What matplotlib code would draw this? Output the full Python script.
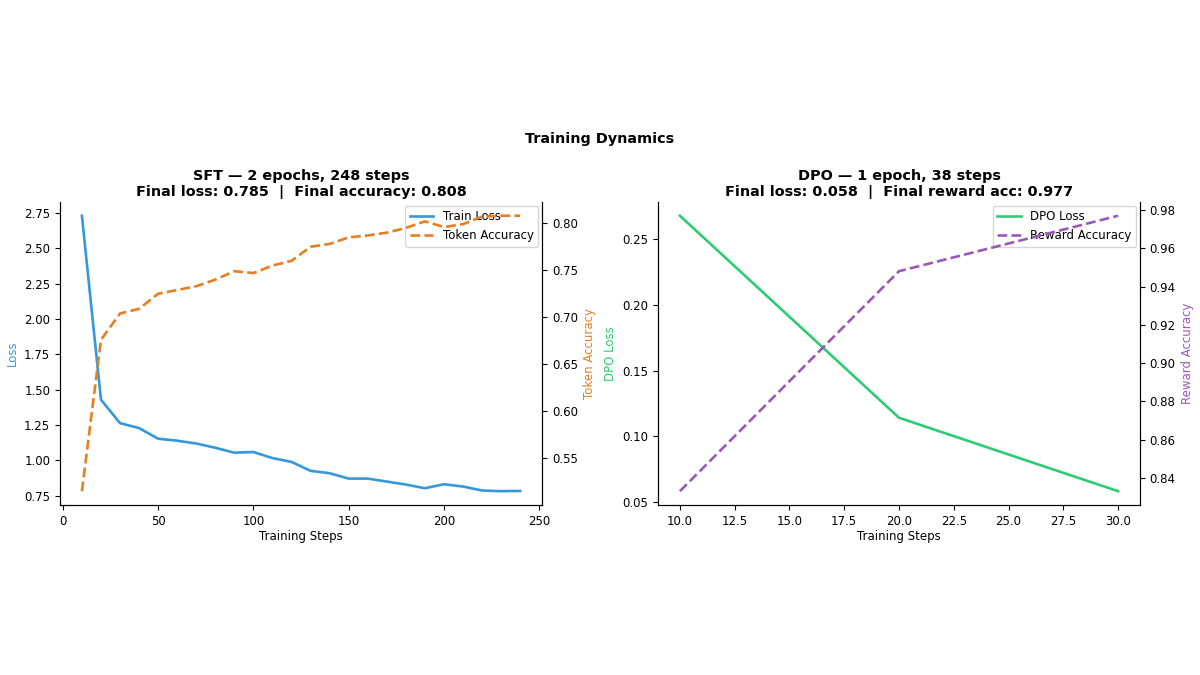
import numpy as np
import matplotlib
matplotlib.use("Agg")
import matplotlib.pyplot as plt

# SFT run
sft_steps = [10, 20, 30, 40, 50, 60, 70, 80, 90, 100, 110, 120, 130, 140, 150, 160,
             170, 180, 190, 200, 210, 220, 230, 240]
sft_loss = [2.73, 1.43, 1.264, 1.229, 1.154, 1.14, 1.12, 1.09, 1.055, 1.06, 1.017, 0.99,
            0.927, 0.91, 0.872, 0.872, 0.851, 0.83, 0.804, 0.832, 0.816, 0.788, 0.783, 0.785]
sft_acc = [0.515, 0.676, 0.704, 0.709, 0.725, 0.729, 0.733, 0.740, 0.749, 0.747, 0.755, 0.760,
           0.775, 0.778, 0.785, 0.787, 0.790, 0.795, 0.802, 0.796, 0.799, 0.807, 0.808, 0.808]

# DPO run
dpo_steps = [10, 20, 30]
dpo_loss = [0.268, 0.114, 0.058]
dpo_acc = [0.833, 0.948, 0.977]

c_loss = "#3498db"
c_acc = "#e67e22"
c_dpo = "#2ecc71"
c_rew = "#9b59b6"

fs_tick = 8.5
fs_title = 10.4

plt.rcParams["font.size"] = fs_tick
plt.rcParams["xtick.labelsize"] = fs_tick
plt.rcParams["ytick.labelsize"] = fs_tick

fig = plt.figure(figsize=(12, 6.75), dpi=100)
fig.suptitle("Training Dynamics", fontsize=fs_title, fontweight="bold", y=0.804)

# --- SFT panel
ax1 = fig.add_axes([0.05, 0.2519, 0.4017, 0.4489])
l1, = ax1.plot(sft_steps, sft_loss, color=c_loss, lw=1.9, label="Train Loss")
ax1.set_xlabel("Training Steps", fontsize=fs_tick, labelpad=2)
ax1.set_ylabel("Loss", color=c_loss, fontsize=fs_tick)
ax1b = ax1.twinx()
l2, = ax1b.plot(sft_steps, sft_acc, color=c_acc, lw=1.9, ls="--", label="Token Accuracy")
ax1b.set_ylabel("Token Accuracy", color=c_acc, fontsize=fs_tick)
ax1.spines["top"].set_visible(False)
ax1b.spines["top"].set_visible(False)
ax1.legend([l1, l2], ["Train Loss", "Token Accuracy"], loc="upper right", fontsize=fs_tick,
           borderaxespad=0.3)
ax1.set_title("SFT — 2 epochs, 248 steps\nFinal loss: 0.785  |  Final accuracy: 0.808",
              fontsize=fs_title, fontweight="bold", pad=4)

# --- DPO panel
ax2 = fig.add_axes([0.5483, 0.2519, 0.4017, 0.4489])
l3, = ax2.plot(dpo_steps, dpo_loss, color=c_dpo, lw=1.9, label="DPO Loss")
ax2.set_xlabel("Training Steps", fontsize=fs_tick, labelpad=2)
ax2.set_ylabel("DPO Loss", color=c_dpo, fontsize=fs_tick)
ax2b = ax2.twinx()
l4, = ax2b.plot(dpo_steps, dpo_acc, color=c_rew, lw=1.9, ls="--", label="Reward Accuracy")
ax2b.set_ylabel("Reward Accuracy", color=c_rew, fontsize=fs_tick)
ax2.spines["top"].set_visible(False)
ax2b.spines["top"].set_visible(False)
ax2.legend([l3, l4], ["DPO Loss", "Reward Accuracy"], loc="upper right", fontsize=fs_tick,
           borderaxespad=0.3)
ax2.set_title("DPO — 1 epoch, 38 steps\nFinal loss: 0.058  |  Final reward acc: 0.977",
              fontsize=fs_title, fontweight="bold", pad=4)

plt.savefig("out.png", dpi=100)
